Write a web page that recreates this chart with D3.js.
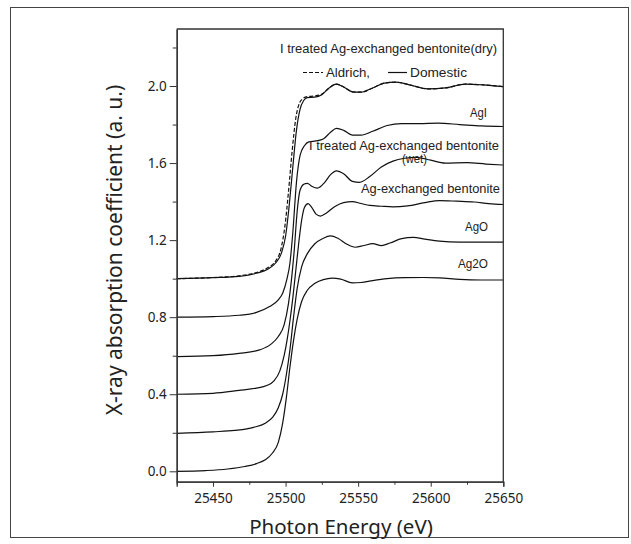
<!DOCTYPE html>
<html>
<head>
<meta charset="utf-8">
<script src="https://cdn.jsdelivr.net/npm/d3@7"></script>
<style>
  body { margin: 0; background: #fff; }
  text { font-family: "Noto Sans", sans-serif; fill: #222; }
  .lbl { font-family: "Liberation Sans", Arial, sans-serif; font-size: 12px; }
</style>
</head>
<body>
<svg width="631" height="544"></svg>
<script>
// [energy (eV), absorption], stacked with offsets
var ag2o = [[25425,0.0],[25445,0.004],[25460,0.012],[25472,0.025],[25480,0.04],[25486,0.06],[25491,0.095],[25495,0.15],[25498,0.25],[25500.5,0.38],[25503,0.54],[25505.5,0.68],[25508,0.79],[25511,0.88],[25515,0.94],[25520,0.975],[25526,0.995],[25532,1.003],[25538,0.998],[25546,0.978],[25552,0.98],[25560,0.99],[25570,1.0],[25582,1.005],[25595,1.006],[25606,1.004],[25620,0.996],[25635,0.993],[25650,0.993]];
var ago = [[25425,0.197],[25450,0.205],[25465,0.212],[25478,0.228],[25486,0.25],[25491,0.28],[25495,0.33],[25498,0.4],[25500.5,0.5],[25503,0.63],[25505.5,0.8],[25508,0.95],[25511,1.06],[25515,1.13],[25520,1.18],[25526,1.21],[25531,1.222],[25536,1.21],[25542,1.18],[25548,1.163],[25554,1.172],[25560,1.182],[25566,1.172],[25572,1.185],[25580,1.208],[25588,1.214],[25596,1.205],[25606,1.195],[25620,1.19],[25650,1.19]];
var agExch = [[25425,0.4],[25450,0.405],[25468,0.42],[25480,0.432],[25487,0.445],[25492,0.47],[25496,0.52],[25499,0.6],[25501,0.68],[25503,0.78],[25505,0.9],[25507,1.04],[25509,1.18],[25511,1.3],[25513,1.37],[25515.5,1.39],[25518,1.37],[25521,1.335],[25524,1.325],[25528,1.34],[25534,1.375],[25540,1.395],[25546,1.4],[25552,1.39],[25558,1.38],[25566,1.376],[25574,1.373],[25584,1.378],[25596,1.395],[25606,1.405],[25618,1.402],[25630,1.398],[25640,1.39],[25650,1.385]];
var wet = [[25425,0.595],[25450,0.6],[25468,0.612],[25482,0.63],[25490,0.66],[25495,0.7],[25499,0.76],[25502,0.87],[25504,0.99],[25506,1.15],[25508,1.35],[25510,1.46],[25512.5,1.49],[25515,1.495],[25518,1.48],[25522,1.47],[25527,1.5],[25531,1.54],[25535,1.56],[25540,1.545],[25546,1.505],[25551,1.5],[25558,1.53],[25566,1.58],[25574,1.61],[25582,1.625],[25590,1.63],[25600,1.615],[25610,1.6],[25625,1.602],[25638,1.595],[25650,1.59]];
var agi = [[25425,0.8],[25450,0.803],[25468,0.81],[25480,0.825],[25489,0.855],[25495,0.89],[25498,0.924],[25501,1.0],[25503,1.08],[25505,1.24],[25507.5,1.5],[25510,1.64],[25513,1.69],[25516,1.71],[25521,1.715],[25526,1.725],[25531,1.76],[25535,1.78],[25540,1.77],[25546,1.745],[25552,1.745],[25560,1.765],[25570,1.795],[25580,1.805],[25592,1.805],[25605,1.807],[25620,1.8],[25635,1.793],[25650,1.79]];
var dryDomestic = [[25425,1.0],[25450,1.005],[25468,1.012],[25480,1.028],[25488,1.05],[25493,1.08],[25497,1.13],[25500,1.22],[25502.5,1.38],[25505,1.58],[25507.5,1.77],[25510,1.88],[25512.5,1.925],[25515,1.94],[25520,1.942],[25525,1.955],[25530,1.99],[25535,2.01],[25540,1.995],[25546,1.97],[25552,1.968],[25560,1.99],[25568,2.015],[25576,2.02],[25586,2.005],[25598,1.985],[25610,1.99],[25624,2.01],[25636,2.006],[25650,1.997]];
var dryAldrich = [[25425,1.0],[25450,1.006],[25468,1.015],[25480,1.032],[25488,1.058],[25493,1.09],[25497,1.16],[25499.5,1.27],[25502,1.45],[25504.5,1.66],[25507,1.83],[25509.5,1.91],[25512,1.935],[25515,1.945],[25520,1.948],[25525,1.958],[25530,1.99],[25535,2.01],[25540,1.995],[25546,1.97],[25552,1.968],[25560,1.99],[25568,2.015],[25576,2.02],[25586,2.005],[25598,1.985],[25610,1.99],[25624,2.01],[25636,2.006],[25650,1.997]];

var xMajor = [25450, 25500, 25550, 25600, 25650];
var xMinor = [25425, 25475, 25525, 25575, 25625];
var yMajor = [0.0, 0.4, 0.8, 1.2, 1.6, 2.0];
var yMinor = [0.2, 0.6, 1.0, 1.4, 1.8, 2.2];

var svg = d3.select("svg");

// outer frame of the figure
svg.append("rect")
    .attr("x", 10.5).attr("y", 7.5)
    .attr("width", 618).attr("height", 530)
    .attr("fill", "none")
    .attr("stroke", "#444")
    .attr("stroke-width", 1);

var pLeft = 176.7, pRight = 503.3, pTop = 29, pBottom = 481.7;

var x = d3.scaleLinear().domain([25425, 25650]).range([pLeft, pRight]);
var y = d3.scaleLinear().domain([-0.054, 2.296]).range([pBottom, pTop]);

var line = d3.line()
    .x(function (d) { return x(d[0]); })
    .y(function (d) { return y(d[1]); })
    .curve(d3.curveMonotoneX);

var plot = svg.append("g");

var solid = [ag2o, ago, agExch, wet, agi, dryDomestic];
plot.selectAll("path.curve")
    .data(solid)
    .enter().append("path")
    .attr("class", "curve")
    .attr("d", line)
    .attr("fill", "none")
    .attr("stroke", "#111")
    .attr("stroke-width", 1.2);

plot.append("path")
    .datum(dryAldrich)
    .attr("d", line)
    .attr("fill", "none")
    .attr("stroke", "#111")
    .attr("stroke-width", 1.2)
    .attr("stroke-dasharray", "4,2");

// frame: top and right
svg.append("path")
    .attr("d", "M" + pLeft + "," + pTop + "H" + pRight + "V" + pBottom)
    .attr("fill", "none")
    .attr("stroke", "#333")
    .attr("stroke-width", 1.3);

// axes
svg.append("g")
    .attr("transform", "translate(0," + pBottom + ")")
    .call(d3.axisBottom(x).tickValues(xMajor).tickFormat(d3.format("d")).tickSize(5).tickPadding(7));
svg.append("g")
    .attr("transform", "translate(0," + pBottom + ")")
    .call(d3.axisBottom(x).tickValues(xMinor).tickFormat("").tickSize(3).tickSizeOuter(0));

svg.append("g")
    .attr("transform", "translate(" + pLeft + ",0)")
    .call(d3.axisLeft(y).tickValues(yMajor).tickFormat(d3.format(".1f")).tickSize(7).tickPadding(3).tickSizeOuter(0));
svg.append("g")
    .attr("transform", "translate(" + pLeft + ",0)")
    .call(d3.axisLeft(y).tickValues(yMinor).tickFormat("").tickSize(4).tickSizeOuter(0));

svg.selectAll(".domain").attr("stroke", "#333").attr("stroke-width", 1.3);
svg.selectAll(".tick line").attr("stroke", "#333");
svg.selectAll(".tick text")
    .attr("font-family", "Noto Sans, sans-serif")
    .attr("font-size", 13.5)
    .attr("fill", "#222");

// axis titles
svg.append("text")
    .attr("x", 341).attr("y", 534)
    .attr("text-anchor", "middle")
    .style("font-size", "20.5px")
    .text("Photon Energy (eV)");

svg.append("text")
    .attr("transform", "translate(122,250) rotate(-90)")
    .attr("text-anchor", "middle")
    .style("font-size", "21px")
    .text("X-ray absorption coefficient (a. u.)");

// curve labels
var labels = [
    { t: "I treated Ag-exchanged bentonite(dry)", x: 280, y: 53, w: 217 },
    { t: "Aldrich,", x: 326, y: 77, w: 44 },
    { t: "Domestic", x: 410, y: 77, w: 57 },
    { t: "AgI", x: 470, y: 117, w: 17 },
    { t: "I treated Ag-exchanged bentonite", x: 309, y: 150, w: 190 },
    { t: "(wet)", x: 402, y: 163, w: 25 },
    { t: "Ag-exchanged bentonite", x: 361, y: 193, w: 139 },
    { t: "AgO", x: 465, y: 231, w: 23 },
    { t: "Ag2O", x: 458, y: 268, w: 30 }
];
svg.selectAll("text.lbl")
    .data(labels)
    .enter().append("text")
    .attr("class", "lbl")
    .attr("x", function (d) { return d.x; })
    .attr("y", function (d) { return d.y; })
    .attr("textLength", function (d) { return d.w; })
    .attr("lengthAdjust", "spacingAndGlyphs")
    .text(function (d) { return d.t; });

// legend line samples
svg.append("line")
    .attr("x1", 303).attr("x2", 323).attr("y1", 72.5).attr("y2", 72.5)
    .attr("stroke", "#111").attr("stroke-width", 1.2).attr("stroke-dasharray", "4,2");
svg.append("line")
    .attr("x1", 388).attr("x2", 407).attr("y1", 72.5).attr("y2", 72.5)
    .attr("stroke", "#111").attr("stroke-width", 1.2);
</script>
</body>
</html>
